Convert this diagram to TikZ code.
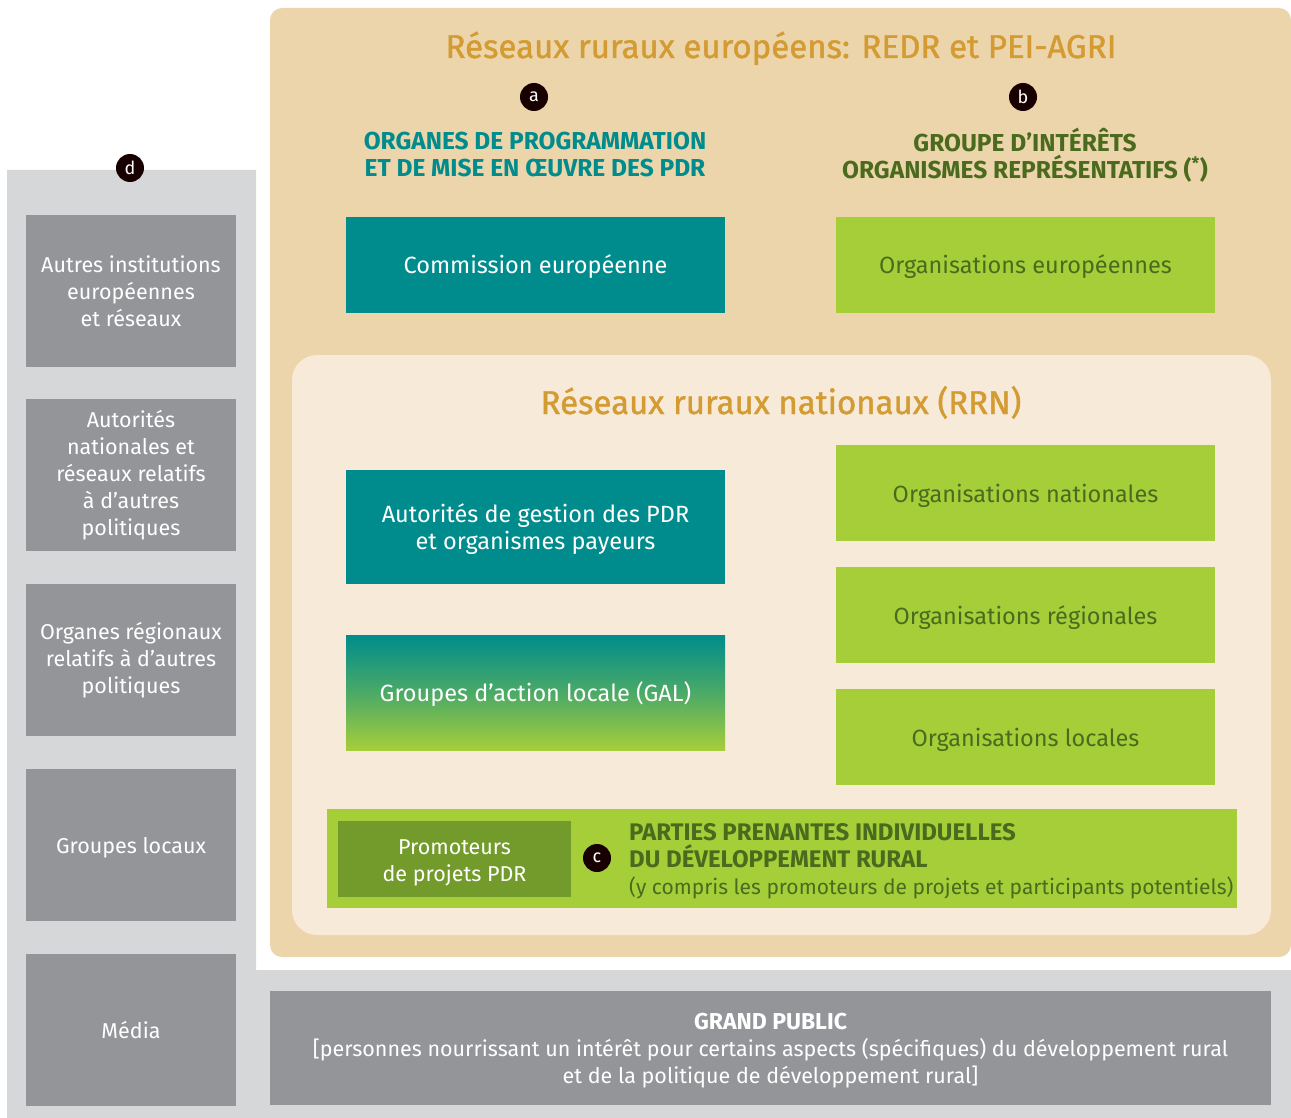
\documentclass[tikz,border=0pt]{standalone}
\usepackage{fontspec}
\setmainfont{Fira Sans}
\newfontfamily\titlefont[FakeBold=1.2]{Fira Sans}
\usetikzlibrary{positioning,calc}

\definecolor{panelgray}{HTML}{D6D7D9}
\definecolor{boxgray}{HTML}{939598}
\definecolor{beige}{HTML}{ECD5AA}
\definecolor{cream}{HTML}{F7EAD8}
\definecolor{teal}{HTML}{008C8C}
\definecolor{lime}{HTML}{A6CE39}
\definecolor{olive}{HTML}{739B2B}
\definecolor{darkolive}{HTML}{4A6B1E}
\definecolor{ochre}{HTML}{D39B32}

\tikzset{
  txt/.style={font=\fontsize{21.5}{27}\selectfont},
  boxtxt/.style={font=\fontsize{23.5}{27}\selectfont},
  oneline/.style={text height=20,text depth=2},
  twolines/.style={text height=48,text depth=4},
  graybox/.style={txt,fill=boxgray,text=white,align=center,
    minimum width=210,minimum height=152,inner sep=0},
  tealbox/.style={boxtxt,fill=teal,text=white,align=center,
    minimum width=379,minimum height=96,inner sep=0},
  limebox/.style={boxtxt,oneline,fill=lime,text=darkolive,align=center,
    minimum width=379,minimum height=96,inner sep=0},
  badge/.style={circle,fill=black!90!red,text=white,minimum size=28,
    inner sep=0,font=\fontsize{18}{18}\selectfont},
  heading/.style={font=\fontsize{24.5}{27}\selectfont\bfseries,align=center},
  bigtitle/.style={font=\fontsize{33}{36}\selectfont\titlefont,text=ochre,anchor=base}
}

\begin{document}
\begin{tikzpicture}[x=1pt,y=-1pt]
% Frame of the picture (pixels of the reference)
\useasboundingbox (0,0) rectangle (1291,1118);

% Gray L-shaped background
\fill[panelgray] (7,170) -- (256,170) -- (256,970) -- (1291,970)
  -- (1291,1118) -- (7,1118) -- cycle;

% European panel and national panel
\fill[beige,rounded corners=12] (270,8) rectangle (1291,957);
\fill[cream,rounded corners=25] (292,355) rectangle (1271,935);

% Titles
\node[bigtitle] (eutitle) at (781,58) {Réseaux ruraux européens: REDR et PEI-AGRI};
\node[bigtitle] (rrntitle) at (781,414) {Réseaux ruraux nationaux (RRN)};

% Badges and headings
\node[badge] (a) at (534,97) {a};
\node[badge] (b) at (1023,97) {b};
\node[badge] (d) at (130,168) {d};
\node[heading,text=teal] (orgprog) at (535,155)
  {ORGANES DE PROGRAMMATION\\ET DE MISE EN ŒUVRE DES PDR};
\node[heading,text=darkolive] (grpint) at (1025,155)
  {GROUPE D’INTÉRÊTS\\ORGANISMES REPRÉSENTATIFS (\textsuperscript{*})};

% Teal column
\node[tealbox,oneline] (commission) at (535.5,265) {Commission européenne};
\node[tealbox,twolines,minimum height=114] (autorites)
  at (535.5,527) {Autorités de gestion des PDR\\et organismes payeurs};
\node[tealbox,oneline,minimum height=115,fill=none,shade,top color=teal,
  bottom color=lime,middle color=teal!55!lime] (gal) at (535.5,692.5)
  {Groupes d’action locale (GAL)};

% Lime column
\node[limebox] (orgeu) at (1025.5,265) {Organisations européennes};
\node[limebox] (orgnat) at (1025.5,493) {Organisations nationales};
\node[limebox] (orgreg) at (1025.5,615) {Organisations régionales};
\node[limebox] (orgloc) at (1025.5,737) {Organisations locales};

% Individual stakeholders band
\node[fill=lime,minimum width=910,minimum height=99,inner sep=0] (band) at (782,858.5) {};
\node[txt,twolines,fill=olive,text=white,align=center,minimum width=233,
  minimum height=76,inner sep=0] (promo) at (454.5,859)
  {Promoteurs\\de projets PDR};
\node[badge] (c) at (597,858) {c};
\node[font=\fontsize{21}{27}\selectfont,text=darkolive,align=left,anchor=west,inner sep=0]
  (parties) at (629,861)
  {{\fontsize{24}{27}\selectfont\bfseries PARTIES PRENANTES INDIVIDUELLES}\\
   {\fontsize{24}{27}\selectfont\bfseries DU DÉVELOPPEMENT RURAL}\\
   (y compris les promoteurs de projets et participants potentiels)};

% Left column
\node[graybox] (autinst) at (131,291) {Autres institutions\\européennes\\et réseaux};
\node[graybox] (autnat) at (131,475)
  {Autorités\\nationales et\\réseaux relatifs\\à d’autres\\politiques};
\node[graybox] (orgregx) at (131,660) {Organes régionaux\\relatifs à d’autres\\politiques};
\node[graybox,text height=19,text depth=3] (grloc) at (131,845) {Groupes locaux};
\node[graybox,text height=19,text depth=3] (media) at (131,1030) {Média};

% General public
\node[txt,fill=boxgray,text=white,align=center,minimum width=1001,minimum height=114,
  inner sep=0,text height=74,text depth=4] (public) at (770.5,1048)
  {{\fontsize{23}{27}\selectfont\bfseries GRAND PUBLIC}\\{[}personnes nourrissant un intérêt pour certains aspects
   (spécifiques) du développement rural\\et de la politique de développement rural{]}};
\end{tikzpicture}
\end{document}
